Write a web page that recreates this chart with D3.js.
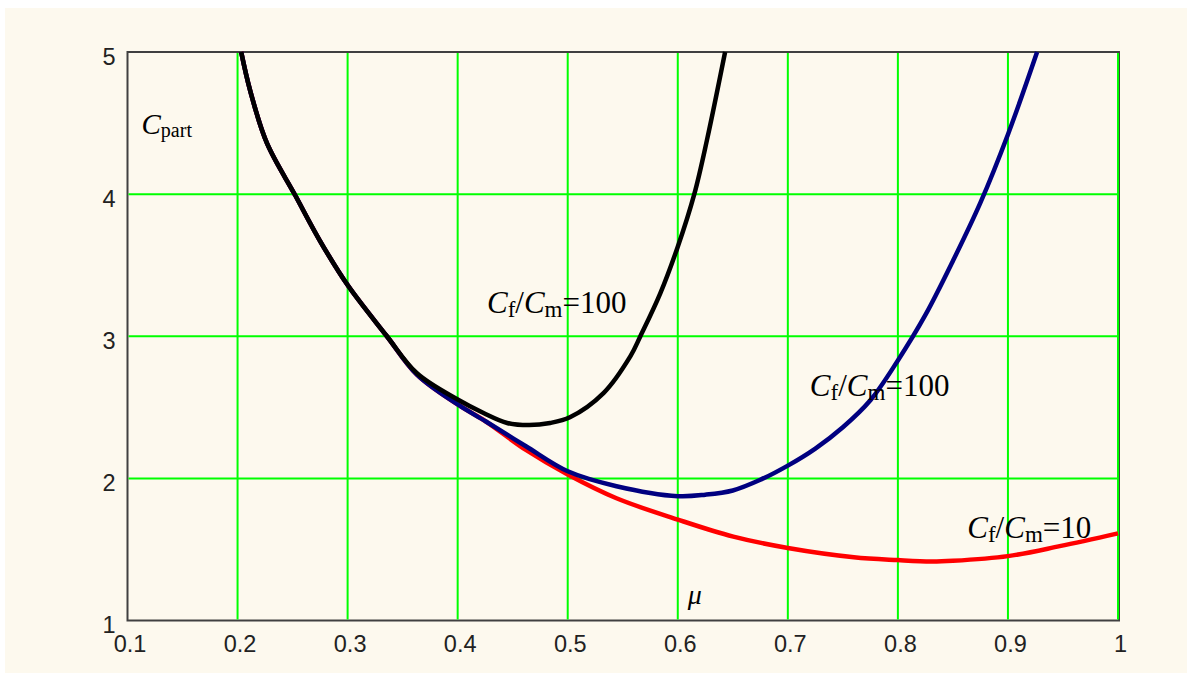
<!DOCTYPE html>
<html>
<head>
<meta charset="utf-8">
<script src="https://cdn.jsdelivr.net/npm/d3@7"></script>
<style>
  body { margin: 0; background: #fff; }
  svg { display: block; }
</style>
</head>
<body>
<div id="chart"></div>
<script>
// values
const xTicks = [0.1, 0.2, 0.3, 0.4, 0.5, 0.6, 0.7, 0.8, 0.9, 1];
const xTickLabels = ["0.1", "0.2", "0.3", "0.4", "0.5", "0.6", "0.7", "0.8", "0.9", "1"];
const yTicks = [1, 2, 3, 4, 5];
const yTickLabels = ["1", "2", "3", "4", "5"];

// Cf/Cm = 100 (black)
const blackMu = [0.2033, 0.2114, 0.2266, 0.2525, 0.275, 0.30, 0.3357, 0.363, 0.40, 0.4235, 0.445, 0.465, 0.484, 0.502, 0.5325, 0.557, 0.566, 0.584, 0.60, 0.615, 0.6265, 0.643];
const blackC = [5.0, 4.73, 4.36, 3.99, 3.67, 3.36, 3.0, 2.74, 2.555, 2.46, 2.39, 2.375, 2.39, 2.43, 2.60, 2.86, 3.0, 3.30, 3.63, 4.0, 4.38, 5.0];

// Cf/Cm = 100 (blue)
const blueMu = [0.2033, 0.2114, 0.2266, 0.2525, 0.275, 0.30, 0.3357, 0.363, 0.40, 0.4257, 0.462, 0.50, 0.5443, 0.60, 0.625, 0.65, 0.675, 0.70, 0.725, 0.75, 0.775, 0.80, 0.825, 0.85, 0.875, 0.90, 0.9265];
const blueC = [5.0, 4.73, 4.36, 3.99, 3.67, 3.36, 3.0, 2.73, 2.52, 2.40, 2.226, 2.05, 1.945, 1.875, 1.885, 1.915, 1.99, 2.09, 2.21, 2.36, 2.55, 2.83, 3.15, 3.53, 3.94, 4.42, 5.0];

// Cf/Cm = 10 (red)
const redMu = [0.2033, 0.2114, 0.2266, 0.2525, 0.275, 0.30, 0.3357, 0.363, 0.40, 0.4257, 0.462, 0.50, 0.5443, 0.60, 0.6505, 0.70, 0.76, 0.80, 0.83, 0.85, 0.90, 0.947, 1.0];
const redC = [5.0, 4.73, 4.36, 3.99, 3.67, 3.36, 3.0, 2.73, 2.52, 2.40, 2.20, 2.027, 1.86, 1.71, 1.59, 1.51, 1.445, 1.425, 1.415, 1.42, 1.453, 1.523, 1.613];

// curve labels: [mu, C, ratio]
const labelMu = [0.4266, 0.72, 0.863];
const labelC = [3.164, 2.578, 1.580];
const labelRatio = ["100", "100", "10"];

const W = 1187, H = 673;
const margin = {top: 52, right: 69, bottom: 52.5, left: 127.5};

const svg = d3.select("#chart").append("svg")
  .attr("width", W)
  .attr("height", H);

svg.append("rect")
  .attr("x", 5).attr("y", 8)
  .attr("width", W - 5).attr("height", H - 8)
  .attr("fill", "#fdf9ee");

const x = d3.scaleLinear()
  .domain([0.1, 1])
  .range([margin.left, W - margin.right]);

const y = d3.scaleLinear()
  .domain([1, 5])
  .range([H - margin.bottom, margin.top]);

// frame
svg.append("rect")
  .attr("x", x(0.1)).attr("y", y(5))
  .attr("width", x(1) - x(0.1) + 1).attr("height", y(1) - y(5))
  .attr("fill", "none")
  .attr("stroke", "#404040")
  .attr("stroke-width", 2);

// grid
svg.append("g")
  .selectAll("line")
  .data(xTicks.slice(1))
  .enter()
  .append("line")
  .attr("x1", d => x(d)).attr("x2", d => x(d))
  .attr("y1", y(5) + 1).attr("y2", y(1) - 1)
  .attr("stroke", "#00ff00")
  .attr("stroke-width", 2);

svg.append("g")
  .selectAll("line")
  .data(yTicks.slice(1, -1))
  .enter()
  .append("line")
  .attr("x1", x(0.1) + 1).attr("x2", x(1))
  .attr("y1", d => y(d)).attr("y2", d => y(d))
  .attr("stroke", "#00ff00")
  .attr("stroke-width", 2);

// axes
const xAxis = svg.append("g")
  .attr("transform", "translate(0," + y(1) + ")")
  .call(d3.axisBottom(x)
    .tickValues(xTicks)
    .tickFormat((d, i) => xTickLabels[i])
    .tickSize(0)
    .tickPadding(15));

const yAxis = svg.append("g")
  .attr("transform", "translate(" + x(0.1) + ",0)")
  .call(d3.axisLeft(y)
    .tickValues(yTicks)
    .tickFormat((d, i) => yTickLabels[i])
    .tickSize(0)
    .tickPadding(12));

[xAxis, yAxis].forEach(a => {
  a.select(".domain").remove();
  a.selectAll("text")
    .attr("font-family", "'Liberation Sans', Arial, sans-serif")
    .attr("font-size", 23.5)
    .attr("fill", "#222");
});
xAxis.selectAll("text").attr("dx", 2);
yAxis.selectAll("text").attr("dy", "0.52em");

// curves
const line = d3.line()
  .x(d => x(d[0]))
  .y(d => y(d[1]))
  .curve(d3.curveCatmullRom.alpha(0.5));

const series = [
  {mu: redMu, c: redC, color: "#ff0000"},
  {mu: blueMu, c: blueC, color: "#000080"},
  {mu: blackMu, c: blackC, color: "#000000"}
];

series.forEach(s => {
  svg.append("path")
    .datum(s.mu.map((m, i) => [m, s.c[i]]))
    .attr("d", line)
    .attr("fill", "none")
    .attr("stroke", s.color)
    .attr("stroke-width", 4.5)
    .attr("stroke-linejoin", "round");
});

// labels
const serif = "'Liberation Serif', 'Times New Roman', serif";

labelMu.forEach((m, i) => {
  const t = svg.append("text")
    .attr("x", x(m)).attr("y", y(labelC[i]))
    .attr("font-family", serif)
    .attr("font-size", 31)
    .attr("fill", "#000");
  t.append("tspan").attr("font-style", "italic").text("C");
  t.append("tspan").attr("font-size", 23).attr("dy", 4).text("f");
  t.append("tspan").attr("dy", -4).text("/");
  t.append("tspan").attr("font-style", "italic").text("C");
  t.append("tspan").attr("font-size", 23).attr("dy", 4).text("m");
  t.append("tspan").attr("dy", -4).text("=" + labelRatio[i]);
});

const yLab = svg.append("text")
  .attr("x", x(0.1) + 14).attr("y", y(5) + 82)
  .attr("font-family", serif)
  .attr("font-size", 29)
  .attr("fill", "#000");
yLab.append("tspan").attr("font-style", "italic").text("C");
yLab.append("tspan").attr("font-size", 20).attr("dy", 3).text("part");

svg.append("text")
  .attr("x", x(0.6) + 10).attr("y", y(1) - 17)
  .attr("font-family", serif)
  .attr("font-style", "italic")
  .attr("font-size", 28)
  .attr("fill", "#000")
  .text("μ");
</script>
</body>
</html>
